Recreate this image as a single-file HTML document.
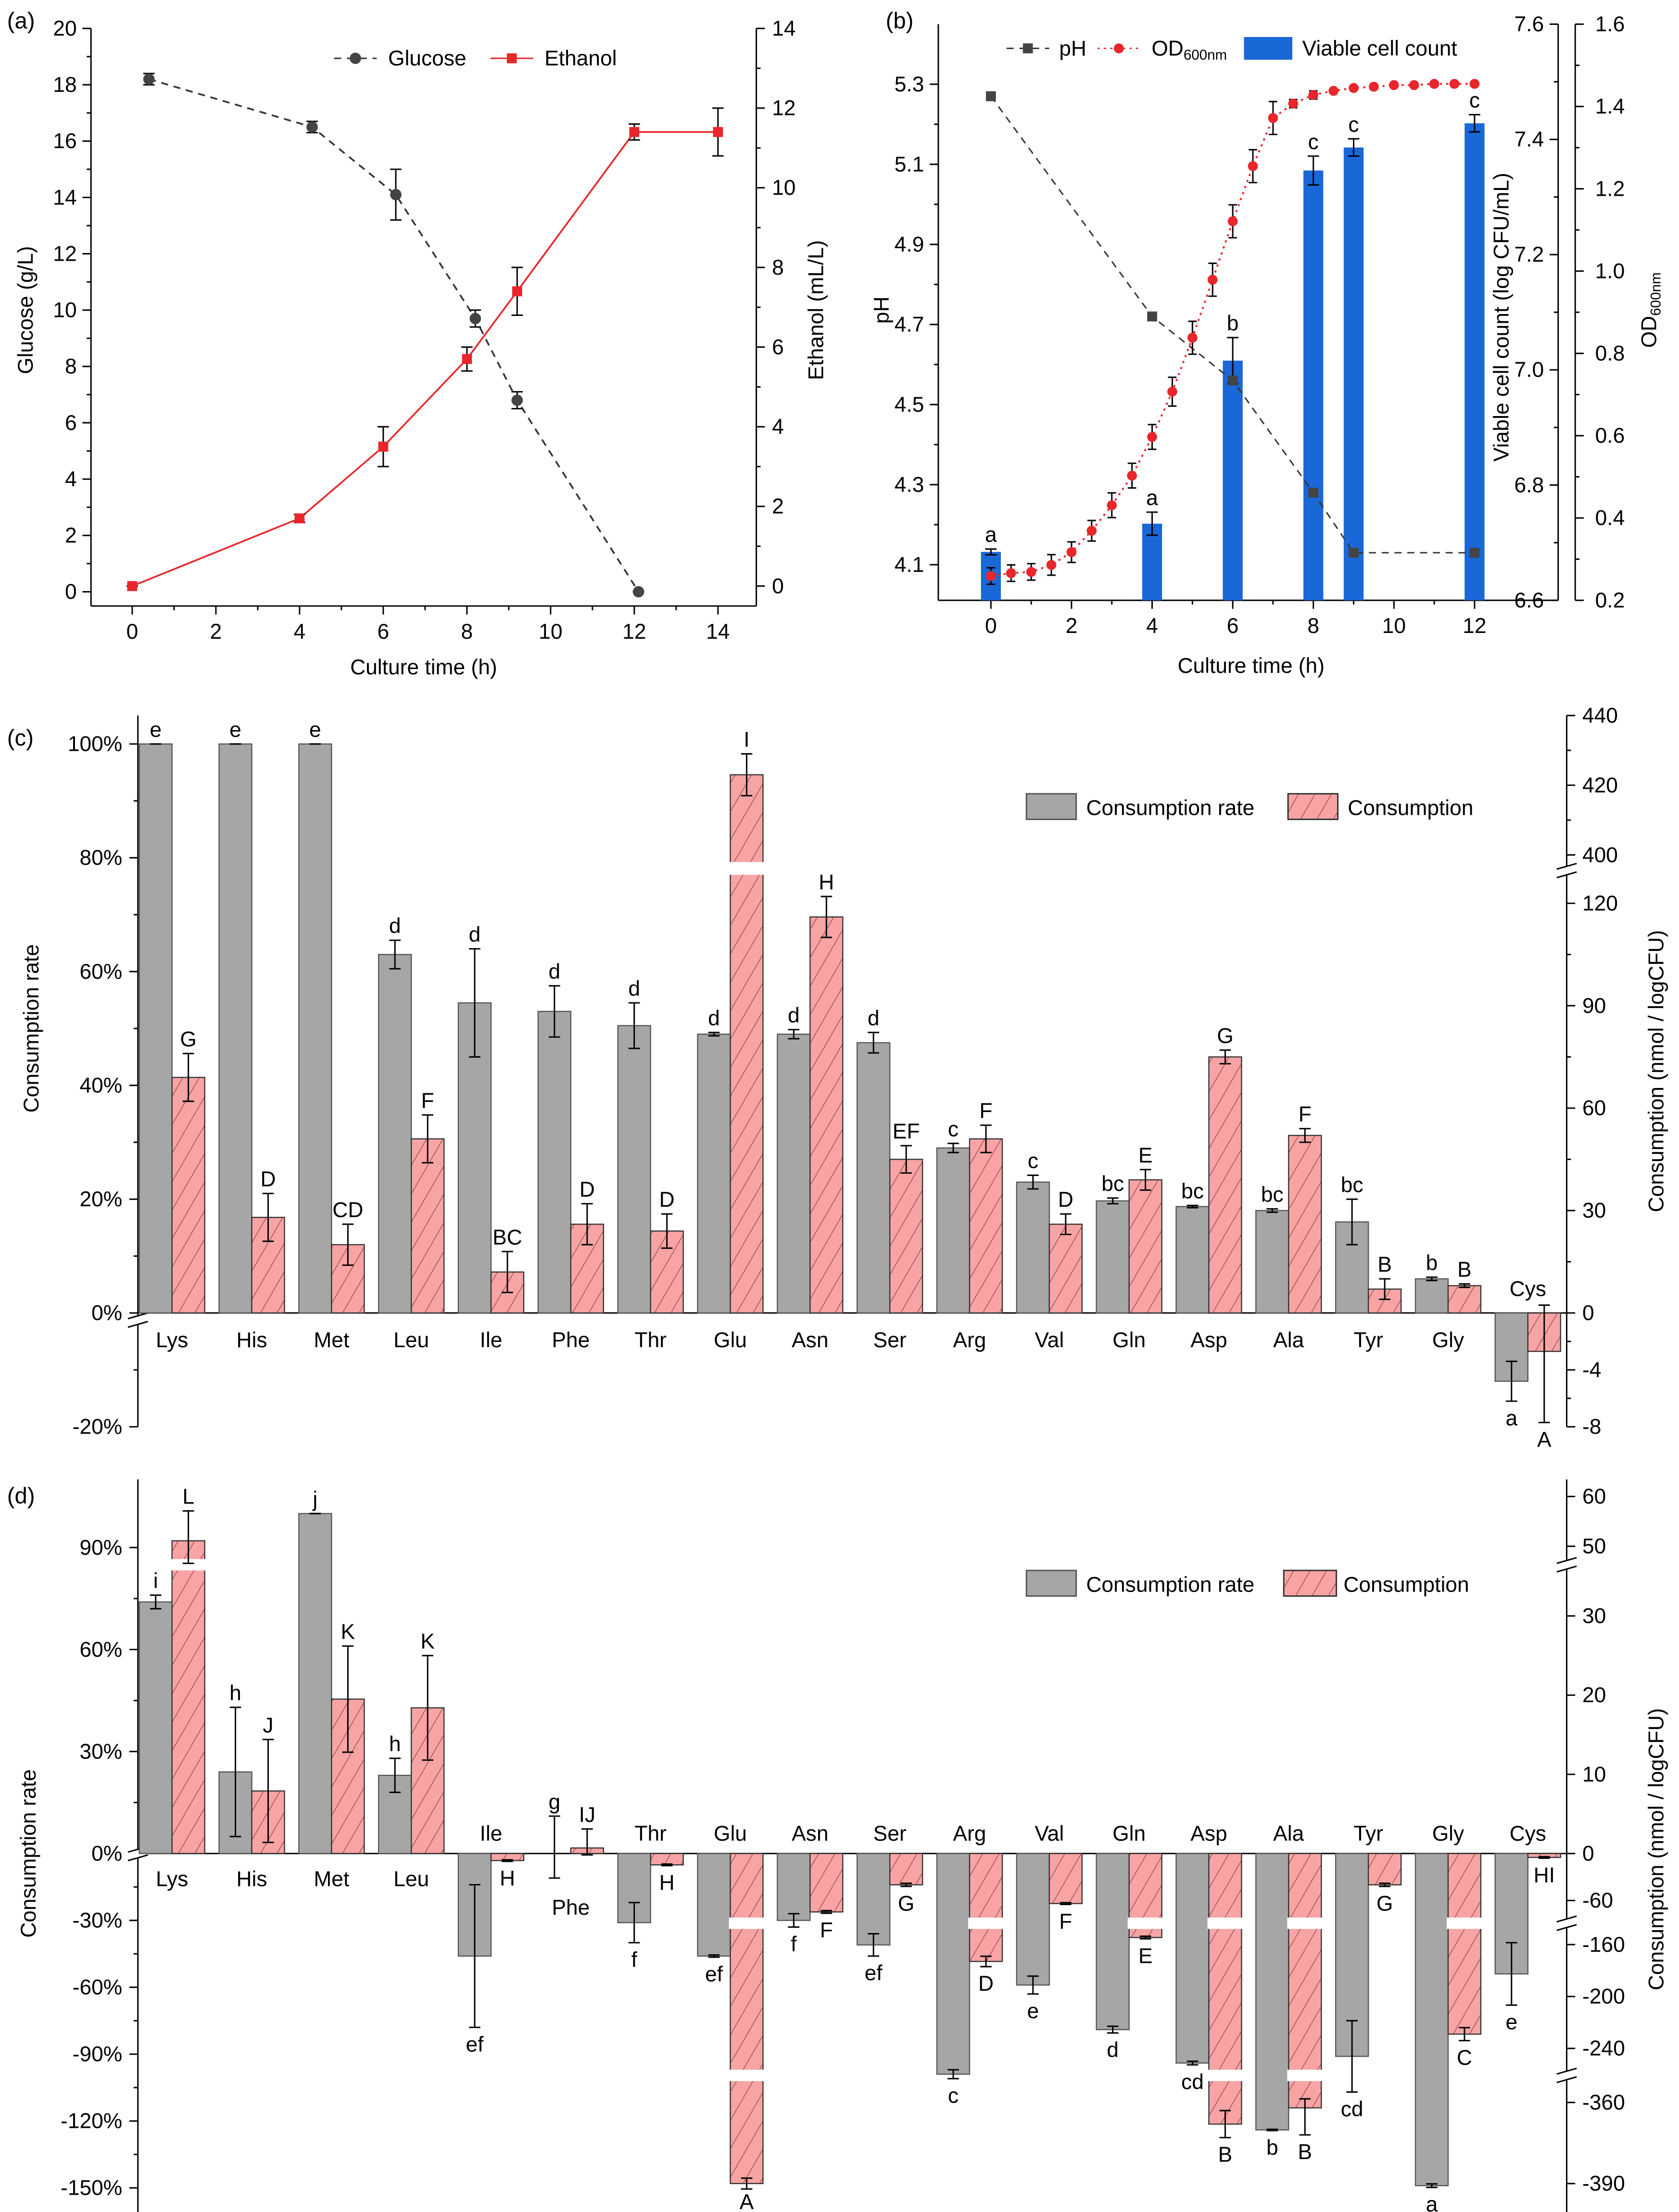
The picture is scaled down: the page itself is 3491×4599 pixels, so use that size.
<!DOCTYPE html>
<html><head><meta charset="utf-8">
<style>
html,body{margin:0;padding:0;background:#fff;}
svg{display:block;font-family:"Liberation Sans",Arial,sans-serif;}
</style></head>
<body>
<svg id="chart" xmlns="http://www.w3.org/2000/svg" width="3491" height="4599" viewBox="0 0 1181 1555" preserveAspectRatio="none">
<defs>
<pattern id="hatch" width="10" height="10" patternUnits="userSpaceOnUse" patternTransform="rotate(30)">
<rect width="10" height="10" fill="#f8a4a4"/>
<line x1="0" y1="0" x2="0" y2="10" stroke="#7a2a2a" stroke-width="0.7"/>
</pattern>
</defs>
</svg>
<script>
// ===== Panel (a) data =====
const aGluT=[0.4,4.3,6.3,8.2,9.2,12.1];
const aGluV=[18.2,16.5,14.1,9.7,6.8,0];
const aGluE=[0.2,0.2,0.9,0.3,0.3,0];
const aEthT=[0,4,6,8,9.2,12,14];
const aEthV=[0,1.7,3.5,5.7,7.4,11.4,11.4];
const aEthE=[0,0.1,0.5,0.3,0.6,0.2,0.6];
// ===== Panel (b) data =====
const bPhT=[0,4,6,8,9,12];
const bPhV=[5.27,4.72,4.56,4.28,4.13,4.13];
const bCellT=[0,4,6,8,9,12];
const bCellV=[6.684,6.733,7.016,7.346,7.386,7.428];
const bCellE=[0.005,0.02,0.04,0.025,0.015,0.015];
const bCellL=["a","a","b","c","c","c"];
const bOdT=[0,0.5,1,1.5,2,2.5,3,3.5,4,4.5,5,5.5,6,6.5,7,7.5,8,8.5,9,9.5,10,10.5,11,11.5,12];
const bOdV=[0.259,0.266,0.269,0.286,0.317,0.369,0.431,0.503,0.597,0.707,0.838,0.979,1.121,1.255,1.372,1.407,1.428,1.438,1.445,1.448,1.452,1.452,1.455,1.455,1.455];
const bOdE=[0.02,0.02,0.02,0.025,0.025,0.025,0.03,0.03,0.03,0.035,0.04,0.04,0.04,0.04,0.04,0.01,0.01,0.005,0.005,0.005,0.005,0.005,0.005,0.005,0.005];
// ===== Panel (c) data =====
const aminoC=["Lys","His","Met","Leu","Ile","Phe","Thr","Glu","Asn","Ser","Arg","Val","Gln","Asp","Ala","Tyr","Gly","Cys"];
const cRate=[100,100,100,63,54.5,53,50.5,49,49,47.5,29,23,19.7,18.7,18,16,6,-12];
const cRateE=[0,0,0,2.5,9.5,4.5,4,0.3,0.8,1.8,0.8,1.2,0.5,0.2,0.3,4,0.3,3.5];
const cRateL=["e","e","e","d","d","d","d","d","d","d","c","c","bc","bc","bc","bc","b","a"];
const cCons=[69,28,20,51,12,26,24,423,116,45,51,26,39,75,52,7,8,-2.7];
const cConsE=[7,7,6,7,6,6,5,6,6,4,4,3,3,2,2,3,0.5,5];
const cConsL=["G","D","CD","F","BC","D","D","I","H","EF","F","D","E","G","F","B","B","A"];
const cLeftTicks=[100,80,60,40,20,0,-20];
const cRightTicks=[0,30,60,90,120,400,420,440,-4,-8];
// ===== Panel (d) data =====
const aminoD=["Lys","His","Met","Leu","Ile","Phe","Thr","Glu","Asn","Ser","Arg","Val","Gln","Asp","Ala","Tyr","Gly","Cys"];
const dRate=[74,24,100,23,-46,0,-31,-46,-30,-41,-99,-59,-79,-94,-124,-91,-149,-54];
const dRateE=[2,19,0,5,32,11,9,0.5,3,5,2,4,1.5,0.8,0.3,16,0.8,14];
const dRateL=["i","h","j","h","ef","g","f","ef","f","ef","c","e","d","cd","b","cd","a","e"];
const dCons=[51.1,7.9,19.5,18.4,-9,0.7,-14.5,-390,-86,-40,-173,-67,-144,-368,-362,-40,-229,-5];
const dConsE=[6,6.5,6.7,6.6,1,2.4,1,2,3,2,4,2,3,5,10,2,5,1];
const dConsL=["L","J","K","K","H","IJ","H","A","F","G","D","F","E","B","B","G","C","HI"];
const dLeftTicks=[90,60,30,0,-30,-60,-90,-120,-150];
const dRightTicks=[60,50,30,20,10,0,-60,-160,-200,-240,-360,-390];

const NS="http://www.w3.org/2000/svg";
const S=document.getElementById('chart');
function el(tag,a,p){const e=document.createElementNS(NS,tag);for(const k in a)e.setAttribute(k,a[k]);(p||S).appendChild(e);return e;}
function txt(x,y,s,a,p){const e=el('text',Object.assign({x:x,y:y,'font-size':15,fill:'#000'},a||{}),p);e.textContent=s;return e;}
function grp(name){const g=el('g',{});return g;}
function line(x1,y1,x2,y2,p,st){return el('line',Object.assign({x1:x1,y1:y1,x2:x2,y2:y2,stroke:'#000','stroke-width':1},st||{}),p);}
function ebar(x,y1,y2,p,w){w=w||4;const g=el('g',{},p);line(x,y1,x,y2,g);line(x-w,y1,x+w,y1,g);line(x-w,y2,x+w,y2,g);return g;}
function brk(x,y,p){
  const g=el('g',{},p);
  el('rect',{x:x-7,y:y-3,width:14,height:6,fill:'#fff'},g);
  line(x-7,y-1,x+7,y-5,g);line(x-7,y+5,x+7,y+1,g);return g;}

// ================= PANEL A =================
{
const G=grp('panel-a');
const xa=t=>93+t*29.43, ga=v=>416-v*19.8, ea=v=>412-v*28;
txt(5,20,'(a)',{'font-size':16},G);
const ax=grp('panel-a-axes');G.appendChild(ax);
line(64,20,64,426,ax);line(532,20,532,426,ax);line(64,426,532,426,ax);
for(let v=0;v<=20;v+=2){line(58,ga(v),64,ga(v),ax);txt(54,ga(v)+5,String(v),{'text-anchor':'end'},ax);}
for(let v=1;v<20;v+=2)line(61,ga(v),64,ga(v),ax);
for(let v=0;v<=14;v+=2){line(532,ea(v),538,ea(v),ax);txt(543,ea(v)+5,String(v),{},ax);}
for(let v=1;v<14;v+=2)line(532,ea(v),535,ea(v),ax);
for(let t=0;t<=14;t+=2){line(xa(t),426,xa(t),432,ax);txt(xa(t),449,String(t),{'text-anchor':'middle'},ax);}
for(let t=1;t<14;t+=2)line(xa(t),426,xa(t),429,ax);
let e=txt(0,0,'Glucose (g/L)',{'text-anchor':'middle',transform:'translate(23,218) rotate(-90)'},G);

e=txt(0,0,'Ethanol (mL/L)',{'text-anchor':'middle',transform:'translate(579,218) rotate(-90)'},G);

e=txt(298,474,'Culture time (h)',{'text-anchor':'middle'},G);

const sg=grp('series-glucose');G.appendChild(sg);
el('polyline',{points:aGluT.map((t,i)=>xa(t)+','+ga(aGluV[i])).join(' '),fill:'none',stroke:'#333','stroke-dasharray':'5,4','stroke-width':1.2},sg);
aGluT.forEach((t,i)=>{ebar(xa(t),ga(aGluV[i]+aGluE[i]),ga(aGluV[i]-aGluE[i]),sg);
 const c=el('circle',{cx:xa(t),cy:ga(aGluV[i]),r:4,fill:'#444'},sg);
 });
const se=grp('series-ethanol');G.appendChild(se);
el('polyline',{points:aEthT.map((t,i)=>xa(t)+','+ea(aEthV[i])).join(' '),fill:'none',stroke:'#e8262b','stroke-width':1.2},se);
aEthT.forEach((t,i)=>{ebar(xa(t),ea(aEthV[i]+aEthE[i]),ea(aEthV[i]-aEthE[i]),se);
 const r=el('rect',{x:xa(t)-3.5,y:ea(aEthV[i])-3.5,width:7,height:7,fill:'#e8262b'},se);
 });
const lg=grp('legend-a');G.appendChild(lg);
line(235,41,265,41,lg,{stroke:'#333','stroke-dasharray':'5,4'});el('circle',{cx:250,cy:41,r:4,fill:'#444'},lg);
txt(273,46,'Glucose',{},lg);
line(345,41,375,41,lg,{stroke:'#e8262b'});el('rect',{x:356.5,y:37.5,width:7,height:7,fill:'#e8262b'},lg);
txt(383,46,'Ethanol',{},lg);
}

// ================= PANEL B =================
{
const G=grp('panel-b');
const T=17,B=422;
const xb=t=>697+t*28.35, ph=v=>397-(v-4.1)*281.5, vc=v=>B-(v-6.6)*(B-T), od=v=>B-(v-0.2)*(B-T)/1.4;
txt(623,20,'(b)',{'font-size':16},G);
const ax=grp('panel-b-axes');G.appendChild(ax);
line(660,T,660,B,ax);line(1096,T,1096,B,ax);line(1108,T,1108,B,ax);line(660,B,1096,B,ax);
[4.1,4.3,4.5,4.7,4.9,5.1,5.3].forEach(v=>{line(654,ph(v),660,ph(v),ax);txt(650,ph(v)+5,v.toFixed(1),{'text-anchor':'end'},ax);});
[4.2,4.4,4.6,4.8,5.0,5.2].forEach(v=>line(657,ph(v),660,ph(v),ax));
[6.6,6.8,7.0,7.2,7.4,7.6].forEach(v=>{line(1090,vc(v),1096,vc(v),ax);txt(1086,vc(v)+5,v.toFixed(1),{'text-anchor':'end'},ax);});
[6.7,6.9,7.1,7.3,7.5].forEach(v=>line(1093,vc(v),1096,vc(v),ax));
[0.2,0.4,0.6,0.8,1.0,1.2,1.4,1.6].forEach(v=>{line(1108,od(v),1114,od(v),ax);txt(1122,od(v)+5,v.toFixed(1),{},ax);});
[0.3,0.5,0.7,0.9,1.1,1.3,1.5].forEach(v=>line(1108,od(v),1111,od(v),ax));
for(let t=0;t<=12;t+=2){line(xb(t),B,xb(t),B+6,ax);txt(xb(t),B+23,String(t),{'text-anchor':'middle'},ax);}
for(let t=1;t<12;t+=2)line(xb(t),B,xb(t),B+3,ax);
let e=txt(0,0,'pH',{'text-anchor':'middle',transform:'translate(625,218) rotate(-90)'},G);

e=txt(0,0,'Viable cell count (log CFU/mL)',{'text-anchor':'middle',transform:'translate(1061,223) rotate(-90)'},G);

e=el('text',{'text-anchor':'middle',transform:'translate(1165,218) rotate(-90)','font-size':15},G);
e.innerHTML='OD<tspan font-size="10" dy="3">600nm</tspan>';

e=txt(880,473,'Culture time (h)',{'text-anchor':'middle'},G);

const sb=grp('series-viable-cell-count');G.appendChild(sb);
bCellT.forEach((t,i)=>{const y=vc(bCellV[i]);
 const r=el('rect',{x:xb(t)-7,y:y,width:14,height:B-y,fill:'#1a67d8'},sb);
 
 ebar(xb(t),vc(bCellV[i]+bCellE[i]),vc(bCellV[i]-bCellE[i]),sb);
 txt(xb(t),vc(bCellV[i]+bCellE[i])-5,bCellL[i],{'text-anchor':'middle'},sb);});
const sp=grp('series-ph');G.appendChild(sp);
el('polyline',{points:bPhT.map((t,i)=>xb(t)+','+ph(bPhV[i])).join(' '),fill:'none',stroke:'#333','stroke-dasharray':'5,4','stroke-width':1},sp);
bPhT.forEach((t,i)=>{const r=el('rect',{x:xb(t)-3.5,y:ph(bPhV[i])-3.5,width:7,height:7,fill:'#444'},sp);
 });
const so=grp('series-od600');G.appendChild(so);
el('polyline',{points:bOdT.map((t,i)=>xb(t)+','+od(bOdV[i])).join(' '),fill:'none',stroke:'#e8262b','stroke-dasharray':'1.5,3','stroke-width':1.3},so);
bOdT.forEach((t,i)=>{ebar(xb(t),od(bOdV[i]+bOdE[i]),od(bOdV[i]-bOdE[i]),so,3);
 const c=el('circle',{cx:xb(t),cy:od(bOdV[i]),r:3.5,fill:'#e8262b'},so);
 });
const lg=grp('legend-b');G.appendChild(lg);
line(708,34,738,34,lg,{stroke:'#333','stroke-dasharray':'5,4'});el('rect',{x:719.5,y:30.5,width:7,height:7,fill:'#444'},lg);
txt(745,39,'pH',{},lg);
line(772,34,802,34,lg,{stroke:'#e8262b','stroke-dasharray':'1.5,3'});el('circle',{cx:787,cy:34,r:3.5,fill:'#e8262b'},lg);
const t2=el('text',{x:810,y:39,'font-size':15},lg);t2.innerHTML='OD<tspan font-size="10" dy="3">600nm</tspan>';
el('rect',{x:875,y:26,width:34,height:16,fill:'#1a67d8'},lg);
txt(916,39,'Viable cell count',{},lg);
}

// ================= PANEL C =================
{
const G=grp('panel-c');
const cx=i=>121+i*56.1;
const yL=p=>923-p*4;
const yR=v=>v<0?923-v*10:(v<200?923-v*2.4:601-(v-400)*2.45);
txt(5,524,'(c)',{'font-size':16},G);
const ax=grp('panel-c-axes');G.appendChild(ax);
line(97,503,97,1003,ax);line(1102,503,1102,1003,ax);line(97,923,1102,923,ax);
cLeftTicks.forEach(v=>{line(91,yL(v),97,yL(v),ax);txt(86,yL(v)+5,v+'%',{'text-anchor':'end'},ax);});
[90,70,50,30,10,-10].forEach(v=>line(94,yL(v),97,yL(v),ax));
cRightTicks.forEach(v=>{line(1102,yR(v),1108,yR(v),ax);txt(1113,yR(v)+5,String(v),{},ax);});
[15,45,75,105,410,430,-2,-6].forEach(v=>line(1102,yR(v),1105,yR(v),ax));
brk(1102,612,ax);brk(97,928,ax);
let e=txt(0,0,'Consumption rate',{'text-anchor':'middle',transform:'translate(27,723) rotate(-90)'},G);

e=txt(0,0,'Consumption (nmol / logCFU)',{'text-anchor':'middle',transform:'translate(1170,753) rotate(-90)'},G);

const bars=grp('bars-c');G.appendChild(bars);
aminoC.forEach((n,i)=>{
 const x=cx(i);
 let y=yL(cRate[i]);
 const g=el('rect',{x:x-23,y:Math.min(y,923),width:23,height:Math.abs(923-y),fill:'#a6a6a6',stroke:'#555','stroke-width':0.8},bars);
 
 ebar(x-11.5,yL(cRate[i]+cRateE[i]),yL(cRate[i]-cRateE[i]),bars);
 if(cRate[i]>=0)txt(x-11.5,yL(cRate[i]+cRateE[i])-5,cRateL[i],{'text-anchor':'middle'},bars);
 else txt(x-11.5,yL(cRate[i]-cRateE[i])+17,cRateL[i],{'text-anchor':'middle'},bars);
 const yr=yR(cCons[i]);
 const r=el('rect',{x:x,y:Math.min(yr,923),width:23,height:Math.abs(923-yr),fill:'url(#hatch)',stroke:'#333','stroke-width':0.8},bars);
 
 if(yr<607)el('rect',{x:x-1,y:606,width:25,height:9,fill:'#fff'},bars);
 ebar(x+11.5,yR(cCons[i]+cConsE[i]),yR(cCons[i]-cConsE[i]),bars);
 if(cCons[i]>=0)txt(x+11.5,yR(cCons[i]+cConsE[i])-5,cConsL[i],{'text-anchor':'middle'},bars);
 else txt(x+11.5,yR(cCons[i]-cConsE[i])+17,cConsL[i],{'text-anchor':'middle'},bars);
 const c=txt(x,cRate[i]<0?911:947,n,{'text-anchor':'middle'},G);
 
});
const lg=grp('legend-c');G.appendChild(lg);
el('rect',{x:722,y:558,width:35,height:18,fill:'#a6a6a6',stroke:'#555'},lg);
txt(764,573,'Consumption rate',{},lg);
el('rect',{x:906,y:558,width:35,height:18,fill:'url(#hatch)',stroke:'#333'},lg);
txt(948,573,'Consumption',{},lg);
}

// ================= PANEL D =================
{
const G=grp('panel-d');
const cx=i=>121+i*56.1;
const yL=p=>p>=0?1303-p*2.39:1303-p*1.567;
const anc=[[-390,1535],[-360,1478],[-240,1440],[-160,1367],[-60,1336],[0,1303],[30,1136],[50,1087],[60,1052]];
const yR=v=>{if(v<=anc[0][0])return anc[0][1]+(anc[0][0]-v)*1.9;
 for(let k=0;k<anc.length-1;k++){const a=anc[k],b=anc[k+1];if(v<=b[0])return a[1]+(v-a[0])*(b[1]-a[1])/(b[0]-a[0]);}
 return 1052-(v-60)*3.5;};
txt(5,1057,'(d)',{'font-size':16},G);
const ax=grp('panel-d-axes');G.appendChild(ax);
line(97,1040,97,1555,ax);line(1102,1040,1102,1555,ax);line(97,1303,1102,1303,ax);
dLeftTicks.forEach(v=>{line(91,yL(v),97,yL(v),ax);txt(86,yL(v)+5,v+'%',{'text-anchor':'end'},ax);});
[75,45,15,-15,-45,-75,-105,-135].forEach(v=>line(94,yL(v),97,yL(v),ax));
dRightTicks.forEach(v=>{line(1102,yR(v),1108,yR(v),ax);txt(1113,yR(v)+5,String(v),{},ax);});
brk(1102,1100,ax);brk(1102,1352,ax);brk(1102,1459,ax);brk(97,1303,ax);
let e=txt(0,0,'Consumption rate',{'text-anchor':'middle',transform:'translate(25,1303) rotate(-90)'},G);

e=txt(0,0,'Consumption (nmol / logCFU)',{'text-anchor':'middle',transform:'translate(1170,1300) rotate(-90)'},G);

const bars=grp('bars-d');G.appendChild(bars);
const breaks=[1100,1352,1459];
aminoD.forEach((n,i)=>{
 const x=cx(i);
 const y=yL(dRate[i]);
 const g=el('rect',{x:x-23,y:Math.min(y,1303),width:23,height:Math.abs(1303-y),fill:'#a6a6a6',stroke:'#555','stroke-width':0.8},bars);
 
 ebar(x-11.5,yL(dRate[i]+dRateE[i]),yL(dRate[i]-dRateE[i]),bars);
 if(dRate[i]>=0)txt(x-11.5,yL(dRate[i]+dRateE[i])-5,dRateL[i],{'text-anchor':'middle'},bars);
 else txt(x-11.5,yL(dRate[i]-dRateE[i])+17,dRateL[i],{'text-anchor':'middle'},bars);
 const yr=yR(dCons[i]);
 const top=Math.min(yr,1303),bot=Math.max(yr,1303);
 const r=el('rect',{x:x,y:top,width:23,height:bot-top,fill:'url(#hatch)',stroke:'#333','stroke-width':0.8},bars);
 
 breaks.forEach(b=>{if(b>top+3&&b<bot-3)el('rect',{x:x-1,y:b-4,width:25,height:8,fill:'#fff'},bars);});
 ebar(x+11.5,yR(dCons[i]+dConsE[i]),yR(dCons[i]-dConsE[i]),bars);
 if(dCons[i]>=0)txt(x+11.5,yR(dCons[i]+dConsE[i])-5,dConsL[i],{'text-anchor':'middle'},bars);
 else txt(x+11.5,Math.min(yR(dCons[i]-dConsE[i])+17,1553),dConsL[i],{'text-anchor':'middle'},bars);
 const ly=(dRate[i]>0)?1326:(dRate[i]===0?1346:1294);
 const c=txt(x,ly,n,{'text-anchor':'middle'},G);
 
});
const lg=grp('legend-d');G.appendChild(lg);
el('rect',{x:722,y:1104,width:35,height:18,fill:'#a6a6a6',stroke:'#555'},lg);
txt(764,1119,'Consumption rate',{},lg);
el('rect',{x:903,y:1104,width:37,height:18,fill:'url(#hatch)',stroke:'#333'},lg);
txt(945,1119,'Consumption',{},lg);
}
</script>
</body></html>
